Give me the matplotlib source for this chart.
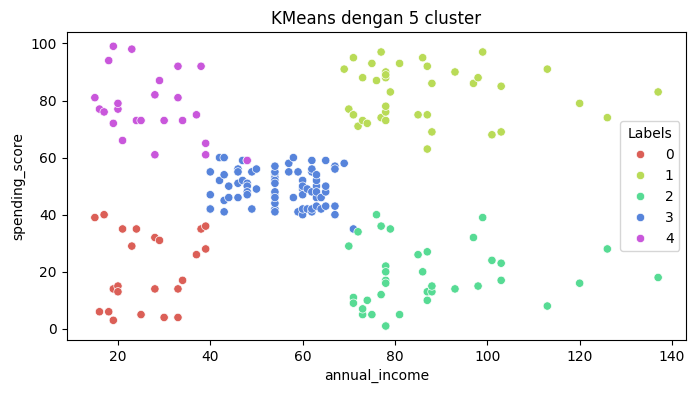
import matplotlib
matplotlib.use("Agg")
import matplotlib.pyplot as plt
import seaborn as sns
import pandas as pd

annual_income = [15, 15, 16, 16, 17, 17, 18, 18, 19, 19, 19, 19, 20, 20, 20, 20, 21, 21, 23, 23,
                 24, 24, 25, 25, 28, 28, 28, 28, 29, 29, 30, 30, 33, 33, 33, 33, 34, 34, 37, 37,
                 38, 38, 39, 39, 39, 39, 40, 40, 40, 40, 42, 42, 43, 43, 43, 43, 44, 44, 46, 46,
                 46, 46, 47, 47, 48, 48, 48, 48, 48, 48, 49, 49, 50, 50, 54, 54, 54, 54, 54, 54,
                 54, 54, 54, 54, 54, 54, 57, 57, 58, 58, 59, 59, 60, 60, 60, 60, 60, 60, 61, 61,
                 62, 62, 62, 62, 62, 62, 63, 63, 63, 63, 63, 63, 64, 64, 65, 65, 65, 65, 67, 67,
                 67, 67, 69, 69, 70, 70, 71, 71, 71, 71, 71, 71, 72, 72, 73, 73, 73, 73, 74, 74,
                 75, 75, 76, 76, 77, 77, 77, 77, 78, 78, 78, 78, 78, 78, 78, 78, 78, 78, 78, 78,
                 79, 79, 81, 81, 85, 85, 86, 86, 87, 87, 87, 87, 87, 87, 88, 88, 88, 88, 93, 93,
                 97, 97, 98, 98, 99, 99, 101, 101, 103, 103, 103, 103, 113, 113, 120, 120, 126, 126, 137, 137]

spending_score = [39, 81, 6, 77, 40, 76, 6, 94, 3, 72, 14, 99, 15, 77, 13, 79, 35, 66, 29, 98,
                  35, 73, 5, 73, 14, 82, 32, 61, 31, 87, 4, 73, 4, 92, 14, 81, 17, 73, 26, 75,
                  35, 92, 36, 61, 28, 65, 55, 47, 42, 42, 52, 60, 54, 60, 45, 41, 50, 46, 51, 46,
                  56, 55, 52, 59, 51, 59, 50, 48, 59, 47, 55, 42, 49, 56, 47, 54, 53, 48, 52, 42,
                  51, 55, 41, 44, 57, 46, 58, 55, 60, 46, 55, 41, 49, 40, 42, 52, 47, 50, 42, 49,
                  41, 48, 59, 55, 56, 42, 50, 46, 43, 48, 52, 54, 42, 46, 48, 50, 43, 59, 43, 57,
                  56, 40, 58, 91, 29, 77, 35, 95, 11, 75, 9, 75, 34, 71, 5, 88, 7, 73, 10, 72,
                  5, 93, 40, 87, 12, 97, 36, 74, 22, 90, 17, 88, 20, 76, 16, 89, 1, 78, 1, 73,
                  35, 83, 5, 93, 26, 75, 20, 95, 27, 63, 13, 75, 10, 92, 13, 86, 15, 69, 14, 90,
                  32, 86, 15, 88, 39, 97, 24, 68, 17, 85, 23, 69, 8, 91, 16, 79, 28, 74, 18, 83]

labels = [0, 4, 0, 4, 0, 4, 0, 4, 0, 4, 0, 4, 0, 4, 0, 4, 0, 4, 0, 4,
          0, 4, 0, 4, 0, 4, 0, 4, 0, 4, 0, 4, 0, 4, 0, 4, 0, 4, 0, 4,
          0, 4, 0, 4, 0, 4, 3, 3, 3, 3, 3, 3, 3, 3, 3, 3, 3, 3, 3, 3,
          3, 3, 3, 3, 3, 3, 3, 3, 4, 3, 3, 3, 3, 3, 3, 3, 3, 3, 3, 3,
          3, 3, 3, 3, 3, 3, 3, 3, 3, 3, 3, 3, 3, 3, 3, 3, 3, 3, 3, 3,
          3, 3, 3, 3, 3, 3, 3, 3, 3, 3, 3, 3, 3, 3, 3, 3, 3, 3, 3, 3,
          3, 3, 3, 1, 2, 1, 3, 1, 2, 1, 2, 1, 2, 1, 2, 1, 2, 1, 2, 1,
          2, 1, 2, 1, 2, 1, 2, 1, 2, 1, 2, 1, 2, 1, 2, 1, 2, 1, 2, 1,
          2, 1, 2, 1, 2, 1, 2, 1, 2, 1, 2, 1, 2, 1, 2, 1, 2, 1, 2, 1,
          2, 1, 2, 1, 2, 1, 2, 1, 2, 1, 2, 1, 2, 1, 2, 1, 2, 1, 2, 1]

df = pd.DataFrame({"annual_income": annual_income,
                   "spending_score": spending_score,
                   "Labels": labels})

fig = plt.figure(figsize=(6.95, 3.93), dpi=100)
ax = fig.add_axes([66.7 / 695, 1 - 340 / 393, (686.3 - 66.7) / 695, (340 - 32.3) / 393])
sns.scatterplot(data=df, x="annual_income", y="spending_score", hue="Labels",
                palette=sns.color_palette("hls", 5), ax=ax)
ax.set_title("KMeans dengan 5 cluster")
ax.legend(title="Labels", loc="center right")
fig.savefig("out.png", dpi=100)
